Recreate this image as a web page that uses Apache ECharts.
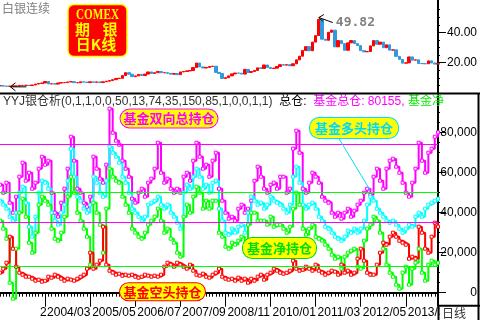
<!DOCTYPE html>
<html><head><meta charset="utf-8">
<script src="https://cdn.jsdelivr.net/npm/echarts@6/dist/echarts.min.js"></script>
<style>html,body{margin:0;padding:0;background:#fff;}#c{width:480px;height:320px;}</style>
</head><body><div id="c"></div>
<script>
// ---- data ----
const startYear = 2003, startMonth = 1, monthCount = 137;
const tickLabels = ['2004/03','2005/05','2006/07','2007/09','2008/11','2010/01','2011/03','2012/05','2013/07'];
// monthly silver close (USD/oz)
const price = [
  4.8, 4.6, 4.4, 4.6, 4.6, 4.6, 5.0, 5.0, 5.1, 4.9, 5.3, 5.9,
  6.3, 6.6, 7.6, 6.0, 6.1, 5.9, 6.6, 6.8, 6.9, 7.3, 7.5, 6.8,
  6.8, 7.4, 7.2, 6.9, 7.4, 7.1, 7.3, 6.9, 7.4, 7.8, 8.2, 8.8,
  9.6, 9.7, 11.5, 13.4, 12.4, 10.8, 11.3, 12.3, 11.5, 12.5, 13.9, 12.9,
  13.4, 14.2, 13.4, 13.4, 13.0, 12.4, 12.9, 12.1, 13.9, 14.2, 14.6, 14.8,
  16.8, 19.8, 17.2, 16.5, 16.9, 17.5, 17.7, 13.6, 12.9, 9.6, 10.1, 11.3,
  12.6, 13.2, 13.1, 12.5, 15.6, 13.6, 14.2, 14.9, 16.6, 16.2, 18.5, 16.9,
  16.2, 16.4, 17.5, 18.7, 18.4, 18.7, 18.0, 19.3, 21.9, 24.3, 28.1, 30.6,
  27.9, 33.6, 37.9, 48.6, 35.5, 34.8, 40.1, 41.5, 30.5, 34.6, 32.6, 28.2,
  33.1, 34.6, 32.6, 31.3, 28.0, 27.2, 27.4, 31.1, 34.6, 32.2, 33.6, 29.9,
  31.8, 28.3, 28.5, 24.2, 22.2, 19.7, 19.9, 23.8, 21.7, 21.9, 19.5, 19.4,
  19.3, 21.2, 19.8, 19.1, 19.4
];
const peakValue = 49.82;
// fund positions (contracts)
const fundTotal = [
  54000, 50000, 55000, 45000, 40000, 48000, 58000, 65000, 56000, 60000, 52000, 55000,
  62000, 68000, 64000, 66000, 50000, 40000, 38000, 45000, 52000, 62000, 78000, 66000,
  52000, 50000, 45000, 43000, 48000, 68000, 62000, 57000, 55000, 64000, 92000, 80000,
  76000, 74000, 66000, 62000, 58000, 47000, 45000, 50000, 52000, 48000, 55000, 57000,
  62000, 75000, 60000, 55000, 57000, 52000, 50000, 52000, 50000, 58000, 60000, 56000,
  66000, 75000, 68000, 62000, 64000, 58000, 66000, 70000, 52000, 46000, 40000, 37000,
  38000, 36000, 42000, 44000, 40000, 42000, 46000, 56000, 63000, 58000, 52000, 50000,
  54000, 55000, 52000, 58000, 58000, 50000, 52000, 72000, 81000, 70000, 52000, 50000,
  55000, 60000, 58000, 55000, 48000, 46000, 45000, 40000, 38000, 40000, 37000, 40000,
  42000, 38000, 41000, 44000, 46000, 50000, 52000, 49000, 58000, 62000, 56000, 52000,
  62000, 66000, 67000, 63000, 60000, 55000, 50000, 48000, 55000, 62000, 75000, 66000,
  60000, 70000, 72000, 78000, 80155
];
const fundLong = [
  46000, 44000, 42000, 38000, 36000, 40000, 50000, 53000, 45000, 33000, 28000, 38000,
  50000, 56000, 55000, 52000, 40000, 36000, 34000, 40000, 44000, 56000, 72000, 58000,
  48000, 46000, 42000, 40000, 44000, 58000, 55000, 50000, 48000, 56000, 73000, 70000,
  68000, 65000, 58000, 55000, 50000, 42000, 40000, 38000, 36000, 38000, 44000, 45000,
  46000, 48000, 44000, 42000, 44000, 40000, 38000, 35000, 32000, 50000, 54000, 52000,
  58000, 62000, 58000, 52000, 54000, 50000, 55000, 56000, 42000, 36000, 30000, 29000,
  32000, 30000, 33000, 34000, 30000, 40000, 48000, 46000, 44000, 45000, 42000, 44000,
  48000, 46000, 45000, 44000, 42000, 40000, 44000, 58000, 63000, 55000, 44000, 42000,
  44000, 45000, 42000, 38000, 36000, 33000, 32000, 30000, 28000, 27000, 26000, 28000,
  31000, 30000, 32000, 30000, 32000, 36000, 44000, 48000, 46000, 42000, 40000, 38000,
  36000, 35000, 36000, 34000, 32000, 30000, 32000, 34000, 33000, 38000, 40000, 38000,
  42000, 44000, 45000, 46000, 47000
];
const fundNet = [
  36000, 32000, 27000, 5000, -3000, 22000, 40000, 47000, 38000, 25000, 20000, 30000,
  44000, 48000, 46000, 44000, 32000, 27000, 26000, 30000, 38000, 48000, 58000, 50000,
  40000, 36000, 32000, 28000, 14000, 45000, 40000, 34000, 20000, 42000, 62000, 58000,
  56000, 55000, 48000, 44000, 40000, 32000, 30000, 28000, 27000, 30000, 34000, 36000,
  38000, 42000, 36000, 30000, 32000, 27000, 25000, 20000, 18000, 38000, 44000, 40000,
  48000, 53000, 50000, 42000, 46000, 42000, 46000, 46000, 30000, 28000, 23000, 22000,
  25000, 24000, 26000, 28000, 22000, 34000, 40000, 40000, 36000, 36000, 36000, 34000,
  38000, 33000, 34000, 34000, 32000, 30000, 33000, 42000, 50000, 44000, 32000, 29000,
  32000, 34000, 28000, 27000, 26000, 24000, 22000, 19000, 17000, 18000, 12000, 18000,
  20000, 21000, 22000, 13000, 12000, 26000, 32000, 34000, 38000, 36000, 30000, 22000,
  14000, 10000, 8000, 4000, 2000, 10000, 13000, 4000, 12000, 15000, 22000, 10000,
  6000, 14000, 16000, 14000, 15000
];
const fundShort = [
  10000, 12000, 15000, 28000, 22000, 13000, 10000, 9000, 8000, 8000, 7000, 6000,
  6500, 5500, 6000, 8000, 7500, 9000, 8000, 7000, 6000, 7000, 6500, 6000,
  7000, 8000, 9000, 12000, 20000, 12000, 14000, 16000, 33000, 14000, 11000, 10000,
  9000, 9500, 8500, 9000, 8500, 9000, 8000, 7500, 8000, 9000, 8500, 8000,
  8500, 8000, 9000, 13000, 15000, 14000, 13000, 15000, 14000, 13000, 12000, 14000,
  11000, 9000, 8500, 9500, 8000, 7500, 9000, 10000, 12000, 8000, 7000, 6500,
  7000, 6000, 7500, 6000, 7000, 5000, 7000, 6000, 8000, 9000, 6500, 9000,
  10000, 12000, 11000, 10000, 9500, 10000, 11000, 16000, 12000, 11000, 11500, 13000,
  12000, 11000, 14000, 11000, 10000, 9000, 10000, 11000, 10500, 9000, 14000, 10000,
  11000, 9000, 10000, 17000, 22000, 16000, 10000, 9000, 9000, 14000, 20000, 25000,
  24000, 28000, 30000, 28000, 26000, 25000, 24000, 17000, 18000, 17000, 33000, 30000,
  22000, 20000, 28000, 35000, 33000
];
const refMagenta = [74000, 35000];
const refGreen = [50000, 13000];
const priceTicks = [20, 40];
const priceMinor = [5, 10, 15, 25, 30, 35, 45, 50, 55];
const posTicks = [0, 20000, 40000, 60000, 80000];
const posMinor = [5000, 10000, 15000, 25000, 30000, 35000, 45000, 50000, 55000, 65000, 70000, 75000, 85000, 90000, 95000];

// ---- build ----
const months = [];
for (let i = 0; i < monthCount; i++) {
  const m = startMonth - 1 + i;
  const y = startYear + Math.floor(m / 12);
  const mm = m % 12 + 1;
  months.push(y + '/' + (mm < 10 ? '0' : '') + mm);
}
const candles = price.map((c, i) => { const o = i ? price[i - 1] : c; return [o, c, Math.min(o, c), Math.max(o, c)]; });
const FONT = '"Liberation Sans","Noto Sans CJK SC",sans-serif';
const CJK = '"Noto Sans CJK SC",sans-serif';
const isMajor = (i, v) => tickLabels.indexOf(v) >= 0;

const chart = echarts.init(document.getElementById('c'), null, { renderer: 'canvas' });

function lineSeries(name, data, color, extra) {
  return Object.assign({
    name, type: 'line', data, xAxisIndex: 1, yAxisIndex: 2, step: 'end',
    symbol: 'rect', symbolSize: 3, showAllSymbol: true,
    lineStyle: { color, width: 2 },
    itemStyle: { color: '#ffffff', borderColor: color, borderWidth: 1 },
    emphasis: { disabled: true }
  }, extra || {});
}
const markLines = refMagenta.map(v => ({ yAxis: v, lineStyle: { color: '#ff00ff' } }))
  .concat(refGreen.map(v => ({ yAxis: v, lineStyle: { color: '#00ff00' } })));

const option = {
  animation: false,
  backgroundColor: '#ffffff',
  grid: [
    { left: 0, right: 42, top: 0, height: 93 },
    { left: 0, right: 42, top: 94, height: 211.7 }
  ],
  xAxis: [
    { type: 'category', gridIndex: 0, data: months, boundaryGap: false, show: false },
    { type: 'category', gridIndex: 1, data: months, boundaryGap: false, position: 'bottom',
      axisLine: { lineStyle: { color: '#000', width: 2 } },
      axisTick: { show: true, interval: 0, length: 4, lineStyle: { color: '#000' } },
      axisLabel: { show: false }, splitLine: { show: false } },
    { type: 'category', gridIndex: 1, data: months, boundaryGap: false, position: 'bottom',
      axisLine: { show: false },
      axisTick: { show: true, interval: isMajor, length: 14, lineStyle: { color: '#000' } },
      axisLabel: { show: true, interval: isMajor, align: 'left', margin: 1, padding: [0, 0, 0, 2],
        color: '#000', fontSize: 12, fontFamily: FONT },
      splitLine: { show: false } }
  ],
  yAxis: [
    { type: 'value', gridIndex: 0, position: 'right', min: 0, max: 61.4,
      axisLine: { show: true, lineStyle: { color: '#000', width: 2 } },
      axisTick: { show: true, customValues: priceTicks, length: 8, lineStyle: { color: '#000' } },
      axisLabel: { show: true, customValues: priceTicks, align: 'right', margin: 39,
        formatter: v => v.toFixed(2), color: '#000', fontSize: 12, fontFamily: FONT },
      splitLine: { show: false } },
    { type: 'value', gridIndex: 0, position: 'right', min: 0, max: 61.4,
      axisLine: { show: false },
      axisTick: { show: true, customValues: priceMinor, length: 2, lineStyle: { color: '#000' } },
      axisLabel: { show: false }, splitLine: { show: false } },
    { type: 'value', gridIndex: 1, position: 'right', min: -6500, max: 99350,
      axisLine: { show: true, lineStyle: { color: '#000', width: 2 } },
      axisTick: { show: true, customValues: posTicks, length: 8, lineStyle: { color: '#000' } },
      axisLabel: { show: true, customValues: posTicks, align: 'right', margin: 39,
        color: '#000', fontSize: 12, fontFamily: FONT },
      splitLine: { show: false } },
    { type: 'value', gridIndex: 1, position: 'right', min: -6500, max: 99350,
      axisLine: { show: false },
      axisTick: { show: true, customValues: posMinor, length: 2, lineStyle: { color: '#000' } },
      axisLabel: { show: false }, splitLine: { show: false } }
  ],
  series: [
    { name: '白银连续', type: 'candlestick', xAxisIndex: 0, yAxisIndex: 0, data: candles, barWidth: 3,
      itemStyle: { color: '#ff0000', color0: '#3399dd', borderColor: '#ff0000', borderColor0: '#3399dd', borderWidth: 1 } },
    lineSeries('基金总仓', fundTotal, '#ff00ff'),
    lineSeries('基金多头', fundLong, '#00ffff'),
    lineSeries('基金净持仓', fundNet, '#00ff00'),
    lineSeries('基金空头', fundShort, '#ff0000', {
      markLine: { silent: true, symbol: ['none', 'none'], label: { show: false },
        lineStyle: { type: 'solid', width: 1 }, data: markLines }
    })
  ]
};
chart.setOption(option);

// ---- annotations ----
let peakIdx = 0;
price.forEach((v, i) => { if (v > price[peakIdx]) peakIdx = i; });
let minIdx = 0;
price.forEach((v, i) => { if (v < price[minIdx]) minIdx = i; });
const tip = chart.convertToPixel({ xAxisIndex: 0, yAxisIndex: 0 }, [peakIdx, peakValue]);
const mp = chart.convertToPixel({ xAxisIndex: 0, yAxisIndex: 0 }, [minIdx, price[minIdx]]);
const mt = [mp[0] + 4, mp[1] + 0.5];

function pill(text, cx, cy, color, border, pad) {
  return { type: 'text', x: cx, y: cy, z: 120,
    style: { text, fill: color, font: 'bold 13px ' + CJK, textAlign: 'center', textVerticalAlign: 'middle',
      backgroundColor: '#ffff00', borderColor: border, borderWidth: 1, borderRadius: 9, padding: pad, lineHeight: 14 } };
}
const S = { stroke: '#000', lineWidth: 2 };
const graphic = [
  { type: 'text', x: 2, y: 8, z: 110, style: { text: '白银连续', fill: '#808080', font: '12px ' + CJK, textVerticalAlign: 'middle' } },
  { type: 'rect', z: 110, shape: { x: 68, y: 4.5, width: 59, height: 52, r: 6 }, style: { fill: '#ff0000', stroke: '#ffff00', lineWidth: 1.5 } },
  { type: 'text', x: 97.5, y: 15.5, z: 111, scaleX: 0.8, originX: 0, originY: 0,
    style: { text: 'COMEX', fill: '#ffff00', font: 'bold 14px "Liberation Serif",serif', textAlign: 'center', textVerticalAlign: 'middle' } },
  { type: 'text', x: 82.5, y: 29.5, z: 111, style: { text: '期', fill: '#ffff00', font: 'bold 15px ' + CJK, textAlign: 'center', textVerticalAlign: 'middle' } },
  { type: 'text', x: 110, y: 29.5, z: 111, style: { text: '银', fill: '#ffff00', font: 'bold 15px ' + CJK, textAlign: 'center', textVerticalAlign: 'middle' } },
  { type: 'text', x: 96, y: 44.5, z: 111, style: { text: '日K线', fill: '#ffff00', font: 'bold 15px ' + CJK, textAlign: 'center', textVerticalAlign: 'middle' } },
  // peak marker
  { type: 'line', z: 110, shape: { x1: tip[0], y1: tip[1], x2: tip[0] + 14, y2: tip[1] + 5 }, style: { stroke: '#000', lineWidth: 1 } },
  { type: 'polyline', z: 110, shape: { points: [[tip[0] + 5, tip[1] - 3], [tip[0], tip[1]], [tip[0] + 4, tip[1] + 4]] }, style: { stroke: '#000', lineWidth: 1, fill: null } },
  { type: 'text', x: tip[0] + 17, y: tip[1] + 5.5, z: 110, style: { text: String(peakValue), fill: '#808080', font: 'bold 13px "DejaVu Sans Mono",monospace', textVerticalAlign: 'middle' } },
  // min marker
  { type: 'line', z: 110, shape: { x1: mt[0], y1: mt[1], x2: mt[0] + 16, y2: mt[1] }, style: { stroke: '#000', lineWidth: 1 } },
  { type: 'polyline', z: 110, shape: { points: [[mt[0] + 5, mt[1] - 4], [mt[0], mt[1]], [mt[0] + 5, mt[1] + 4]] }, style: { stroke: '#000', lineWidth: 1, fill: null } },
  // header
  { type: 'text', x: 3, y: 102, z: 110, style: {
      text: '{a|YYJ银仓析(0,1,1,0,0,50,13,74,35,150,85,1,0,0,1,1)}  {b|总仓:}  {m|基金总仓: ' + fundTotal[fundTotal.length - 1] + ',} {g|基金净}',
      textVerticalAlign: 'middle', font: '12px ' + FONT,
      rich: { a: { fill: '#333', font: '12px ' + FONT }, b: { fill: '#000', font: '12px ' + FONT },
              m: { fill: '#ff00ff', font: '12px ' + FONT }, g: { fill: '#00ee00', font: '12px ' + FONT } } } },
  // labels
  pill('基金双向总持仓', 169, 118.5, '#ff00ff', '#ff00ff', [2, 3]),
  { type: 'line', z: 115, shape: { x1: 338, y1: 137, x2: 370, y2: 190 }, style: { stroke: '#00ddff', lineWidth: 1 } },
  pill('基金多头持仓', 354, 128, '#00d8ff', '#00ddff', [3, 5]),
  pill('基金净持仓', 279.5, 248, '#00dd00', '#00dd00', [3, 4]),
  pill('基金空头持仓', 162.5, 291.7, '#ff0000', '#ff0000', [1.5, 3.5]),
  // frame
  { type: 'rect', z: 130, shape: { x: 439.5, y: 307, width: 38, height: 13 }, style: { fill: '#fff' } },
  { type: 'line', z: 131, shape: { x1: 0, y1: 93.5, x2: 480, y2: 93.5 }, style: S },
  { type: 'line', z: 131, shape: { x1: 438.5, y1: 305, x2: 438.5, y2: 320 }, style: S },
  { type: 'line', z: 131, shape: { x1: 478.5, y1: 93.5, x2: 478.5, y2: 320 }, style: S },
  { type: 'line', z: 131, shape: { x1: 438, y1: 305.7, x2: 480, y2: 305.7 }, style: S },
  { type: 'text', x: 40, y: 313, z: 132, style: { text: '2', fill: '#000', font: '12px ' + FONT, textVerticalAlign: 'middle' } },
  { type: 'text', x: 442, y: 313, z: 132, style: { text: '日线', fill: '#333', font: '12px ' + CJK, textVerticalAlign: 'middle' } }
];
chart.setOption({ graphic });
</script>
</body></html>
